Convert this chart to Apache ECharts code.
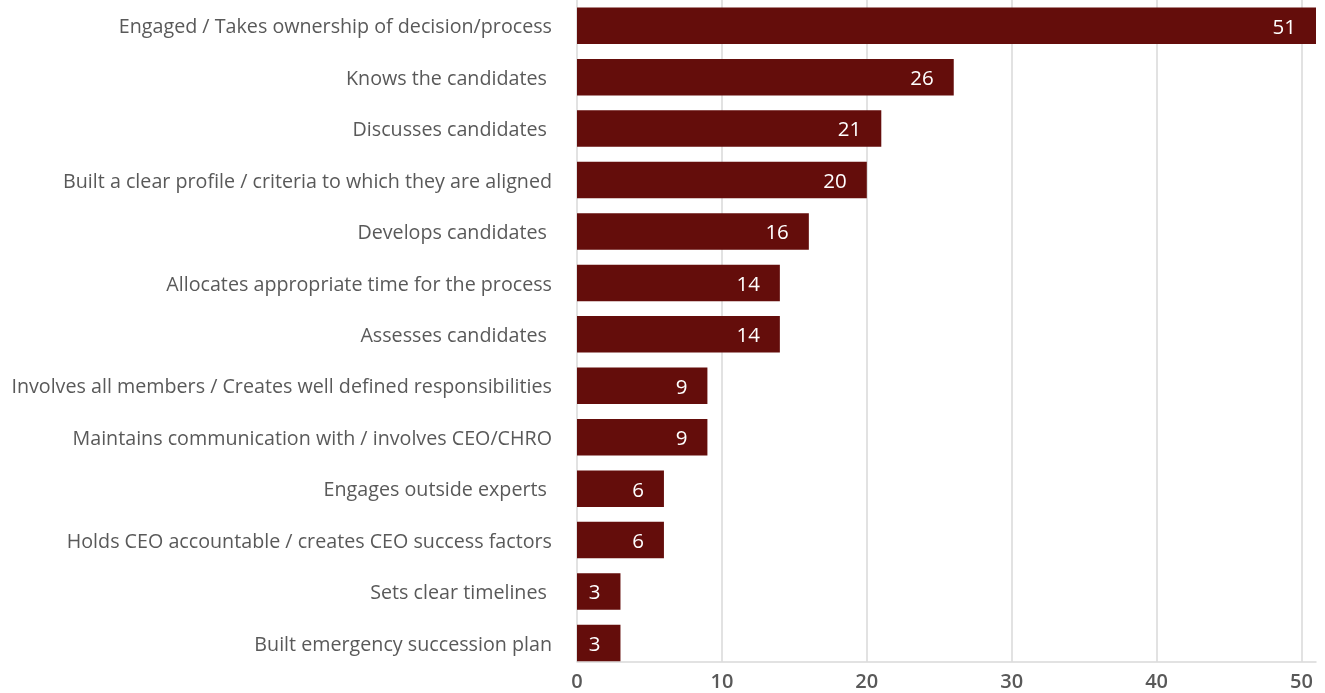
<!DOCTYPE html>
<html>
<head>
<meta charset="utf-8">
<script src="https://cdn.jsdelivr.net/npm/echarts@6/dist/echarts.min.js"></script>
<style>
  html, body { margin: 0; padding: 0; background: #ffffff; }
  #chart { width: 1325px; height: 693px; }
</style>
</head>
<body>
<div id="chart"></div>
<script>
// Board behaviours, most to least frequently cited
const categories = [
  'Engaged / Takes ownership of decision/process',
  'Knows the candidates ',
  'Discusses candidates ',
  'Built a clear profile / criteria to which they are aligned',
  'Develops candidates ',
  'Allocates appropriate time for the process',
  'Assesses candidates ',
  'Involves all members / Creates well defined responsibilities',
  'Maintains communication with / involves CEO/CHRO',
  'Engages outside experts ',
  'Holds CEO accountable / creates CEO success factors',
  'Sets clear timelines ',
  'Built emergency succession plan'
];
const counts = [51, 26, 21, 20, 16, 14, 14, 9, 9, 6, 6, 3, 3];
const xTicks = [0, 10, 20, 30, 40, 50];

const FONT = '"Open Sans", "Noto Sans", sans-serif';
const X_MAX = 51;
const PLOT_LEFT = 577;
const PLOT_WIDTH = 739;

const chart = echarts.init(document.getElementById('chart'), null, { renderer: 'canvas' });

chart.setOption({
  backgroundColor: '#ffffff',
  animation: false,
  grid: [
    // bars and category labels
    { left: PLOT_LEFT, width: PLOT_WIDTH, top: 0, height: 668.7, containLabel: false },
    // value axis, gridlines and baseline
    { left: PLOT_LEFT, width: PLOT_WIDTH, top: 0, height: 661.7, containLabel: false }
  ],
  xAxis: [
    {
      type: 'value', gridIndex: 0, min: 0, max: X_MAX, interval: 10,
      show: false
    },
    {
      type: 'value', gridIndex: 1, min: 0, max: X_MAX, interval: 10,
      axisLine: { show: true, lineStyle: { color: '#d9d9d9', width: 1.5 } },
      axisTick: { show: false },
      splitLine: { show: true, showMaxLine: false, lineStyle: { color: '#d9d9d9', width: 1.5 } },
      axisLabel: {
        showMaxLabel: false,
        margin: 11,
        color: '#595959',
        fontFamily: FONT,
        fontSize: 20,
        fontWeight: 600,
        formatter: v => (xTicks.indexOf(v) >= 0 ? String(v) : '')
      }
    }
  ],
  yAxis: [
    {
      type: 'category', gridIndex: 0, data: categories, inverse: true,
      axisLine: { show: false },
      axisTick: { show: false },
      axisLabel: {
        margin: 25,
        color: '#595959',
        fontFamily: FONT,
        fontSize: 19.7,
        formatter: v => '{t|' + v + '}',
        rich: {
          t: {
            color: '#595959',
            fontFamily: FONT,
            fontSize: 19.7,
            padding: [4, 0, 0, 0]
          }
        }
      }
    },
    {
      type: 'value', gridIndex: 1, show: false,
      axisLine: { show: false }, splitLine: { show: false }
    }
  ],
  series: [
    {
      type: 'bar',
      xAxisIndex: 0,
      yAxisIndex: 0,
      data: counts,
      barWidth: 36.5,
      itemStyle: { color: '#640d0b' },
      label: {
        show: true,
        position: 'insideRight',
        distance: 20,
        offset: [0, 2],
        color: '#ffffff',
        fontFamily: FONT,
        fontSize: 20.5,
        fontWeight: 500
      }
    }
  ]
});
</script>
</body>
</html>
